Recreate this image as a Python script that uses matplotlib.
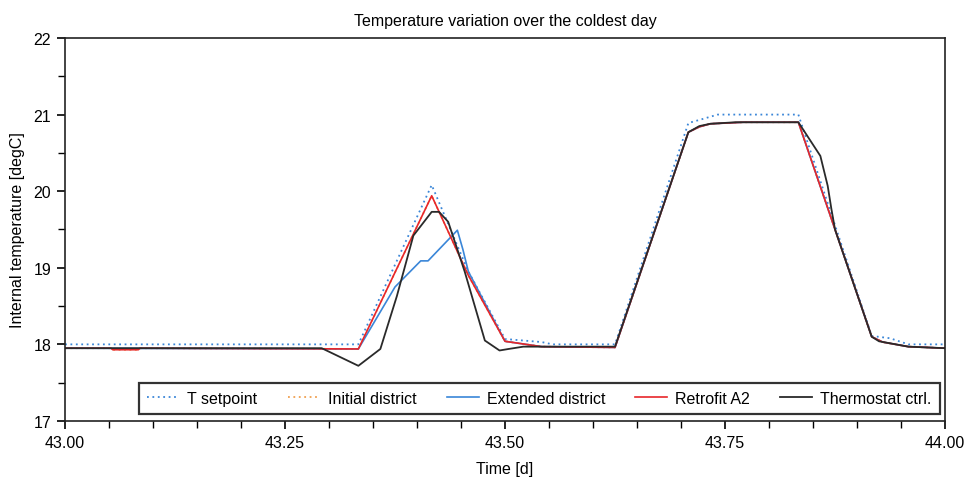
import numpy as np
import matplotlib.pyplot as plt

plt.rcParams['font.family'] = ['Liberation Sans', 'DejaVu Sans']

# === data (hours of day 43, temperatures in degC) ===
day = 43

sp_hours = [0, 8, 10, 11, 12, 13, 13.3, 15, 17, 17.3, 17.8, 20, 22, 22.5, 23, 24]
sp_temp = [18.0, 18.0, 20.08, 18.95, 18.07, 18.03, 18.0, 18.0, 20.89, 20.93, 21.0, 21.0, 18.11, 18.08, 18.0, 18.0]

ret_hours = [0, 1.25, 1.3, 2.0, 2.05, 8, 10, 11, 12, 13, 15, 17, 17.3, 17.6, 18.5, 20, 22, 22.3, 23, 24]
ret_temp = [17.95, 17.95, 17.93, 17.93, 17.95, 17.94, 19.94, 18.9, 18.04, 17.97, 17.96, 20.77, 20.84, 20.88, 20.9, 20.9, 18.1, 18.03, 17.97, 17.95]

init_hours = ret_hours
init_temp = ret_temp

ext_hours = [0, 8, 9, 9.7, 9.9, 10.7, 10.85, 11, 12, 13, 15, 17, 17.3, 17.6, 18.5, 20, 22, 22.3, 23, 24]
ext_temp = [17.95, 17.94, 18.75, 19.09, 19.09, 19.49, 19.24, 18.95, 18.04, 17.97, 17.96, 20.77, 20.84, 20.88, 20.9, 20.9, 18.1, 18.03, 17.97, 17.95]

th_hours = [0, 7, 8, 8.6, 9.05, 9.5, 10.0, 10.2, 10.45, 10.9, 11.45, 11.85, 12.1, 12.5, 15,
            17, 17.3, 17.6, 18.3, 20, 20.6, 20.8, 20.9, 21, 22, 22.2, 23, 24]
th_temp = [17.95, 17.95, 17.72, 17.94, 18.63, 19.42, 19.73, 19.73, 19.6, 18.95, 18.05, 17.92, 17.94, 17.97, 17.97,
           20.77, 20.85, 20.88, 20.9, 20.9, 20.46, 20.07, 19.77, 19.5, 18.1, 18.04, 17.97, 17.95]


def t(h):
    return day + np.array(h) / 24.0


fs = 11.5
fig = plt.figure(figsize=(9.65, 4.85), dpi=100)
ax = fig.add_axes([0.0674, 0.13, 0.9119, 0.7896])

ax.plot(t(sp_hours), sp_temp, ls=(0, (1, 2)), color='#3a86d8', lw=1.3, label='T setpoint')
ax.plot(t(init_hours), init_temp, ls=(0, (1, 2)), color='#f0a050', lw=1.3, label='Initial district')
ax.plot(t(ext_hours), ext_temp, color='#3a86d8', lw=1.2, label='Extended district')
ax.plot(t(ret_hours), ret_temp, color='#e8262a', lw=1.2, label='Retrofit A2')
ax.plot(t(th_hours), th_temp, color='#2a2a2a', lw=1.3, label='Thermostat ctrl.')

ax.set_xlim(43, 44)
ax.set_ylim(17, 22)
ax.set_xticks(np.arange(43, 44.01, 0.25))
ax.set_xticks(np.arange(43, 44.01, 0.05), minor=True)
ax.set_xticklabels(['%.2f' % v for v in np.arange(43, 44.01, 0.25)])
ax.set_yticks(np.arange(17, 22.1, 1))
ax.set_yticks(np.arange(17, 22.1, 0.5), minor=True)
ax.tick_params(which='major', direction='out', length=6, width=1.2, labelsize=fs, pad=4)
ax.tick_params(which='minor', direction='out', length=5, width=1.0)
for s in ax.spines.values():
    s.set_linewidth(1.2)
    s.set_color('#222222')

ax.set_title('Temperature variation over the coldest day', fontsize=fs, pad=9)
ax.set_xlabel('Time [d]', fontsize=fs, labelpad=8)
ax.set_ylabel('Internal temperature [degC]', fontsize=fs, labelpad=6)

leg = ax.legend(ncol=5, loc='lower right', bbox_to_anchor=(0.994, 0.018), fontsize=fs,
                frameon=True, fancybox=False, edgecolor='black', handlelength=2.0,
                columnspacing=1.9, handletextpad=0.5, borderpad=0.5, borderaxespad=0)
leg.get_frame().set_linewidth(1.6)

fig.savefig('out.png', dpi=100)
